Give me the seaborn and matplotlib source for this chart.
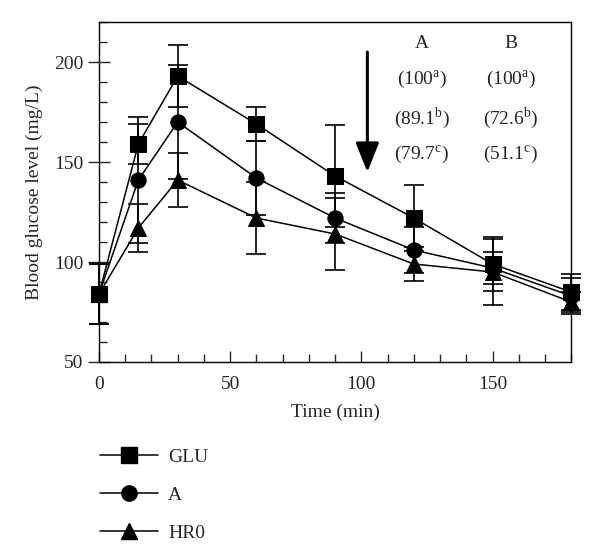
import numpy as np
import pandas as pd
import matplotlib
matplotlib.use('Agg')
import matplotlib.pyplot as plt
from matplotlib.lines import Line2D
from matplotlib.ticker import MultipleLocator
import seaborn as sns

# data
time = [0, 15, 30, 60, 90, 120, 150, 180]
glu = [84, 159, 193, 169, 143, 122, 99, 85]
glu_err = [15, 10, 15.5, 8.5, 25.5, 16.5, 13.5, 9]
a = [84, 141, 170, 142, 122, 106, 97, 83]
a_err = [15, 31.5, 28.5, 18.5, 12.5, 11.5, 8, 9]
hr0 = [84, 117, 141, 122, 114, 99, 95, 80]
hr0_err = [15, 12, 13.5, 18, 18, 8.5, 16.5, 5]

groups = ['GLU', 'A', 'HR0']
markers = {'GLU': 's', 'A': 'o', 'HR0': '^'}
sizes = {'GLU': 11, 'A': 11, 'HR0': 12}

col_a = ['(100$^{\\mathrm{a}}$)', '(89.1$^{\\mathrm{b}}$)', '(79.7$^{\\mathrm{c}}$)']
col_b = ['(100$^{\\mathrm{a}}$)', '(72.6$^{\\mathrm{b}}$)', '(51.1$^{\\mathrm{c}}$)']

df = pd.DataFrame({
    'time': time * 3,
    'glucose': glu + a + hr0,
    'err': glu_err + a_err + hr0_err,
    'group': np.repeat(groups, len(time)),
})


#-------------------------------------------------------
def main():
    sns.set_style('white')
    plt.rcParams['font.family'] = ['Liberation Serif', 'DejaVu Serif']
    plt.rcParams['mathtext.fontset'] = 'custom'
    plt.rcParams['mathtext.rm'] = 'Liberation Serif'
    fs = 14

    fig = plt.figure(figsize=(6, 5.6), dpi=100)
    ax = fig.add_axes([0.165, 0.3536, 0.787, 0.607])

    for g in groups:
        d = df[df['group'] == g]
        ax.errorbar(d['time'], d['glucose'], yerr=d['err'], fmt='none',
                    ecolor='black', elinewidth=1.2, capsize=7, capthick=1.2,
                    zorder=2, clip_on=False)
        sns.lineplot(data=d, x='time', y='glucose', marker=markers[g],
                     markersize=sizes[g], color='black', markeredgecolor='black',
                     linewidth=1.1, ax=ax, zorder=3, clip_on=False)

    ax.set_xlim(0, 180)
    ax.set_ylim(50, 220)
    ax.set_xticks([0, 50, 100, 150])
    ax.set_yticks([50, 100, 150, 200])
    ax.xaxis.set_minor_locator(MultipleLocator(10))
    ax.yaxis.set_minor_locator(MultipleLocator(10))
    ax.tick_params(axis='x', which='major', direction='in', length=8, width=1, labelsize=fs, pad=10)
    ax.tick_params(axis='x', which='minor', direction='in', length=6, width=1)
    ax.tick_params(axis='y', which='major', direction='inout', length=16, width=1, labelsize=fs, pad=3)
    ax.tick_params(axis='y', which='minor', direction='in', length=6, width=1)
    ax.tick_params(bottom=True, left=True, which='both')
    for s in ax.spines.values():
        s.set_color('black')
        s.set_linewidth(1.0)

    ax.set_xlabel('Time (min)', fontsize=fs, labelpad=8)
    ax.set_ylabel('Blood glucose level (mg/L)', fontsize=fs, labelpad=8)

    # arrow and the A/B columns
    ax.annotate('', xy=(102.3, 145), xytext=(102.3, 205),
                arrowprops=dict(arrowstyle='-|>,head_width=0.36,head_length=0.9',
                                lw=2.2, color='black', mutation_scale=20,
                                shrinkA=0, shrinkB=0))
    ax.text(123, 209.5, 'A', ha='center', va='center', fontsize=fs)
    ax.text(157, 209.5, 'B', ha='center', va='center', fontsize=fs)
    for yy, ta, tb in zip([191, 172, 153.5], col_a, col_b):
        ax.text(123, yy, ta, ha='center', va='center', fontsize=fs)
        ax.text(157, yy, tb, ha='center', va='center', fontsize=fs)

    handles = [Line2D([], [], color='black', lw=1.1, marker=markers[g],
                      markersize=sizes[g], markeredgecolor='black') for g in groups]
    fig.legend(handles, groups, loc='upper left', bbox_to_anchor=(0.1667, 0.200),
               frameon=False, fontsize=fs, handlelength=3.0, handletextpad=0.5,
               labelspacing=1.06, borderpad=0, borderaxespad=0)

    fig.savefig('out.png', dpi=100)


#-------------------------------------------------------
if __name__ == '__main__':
    main()
